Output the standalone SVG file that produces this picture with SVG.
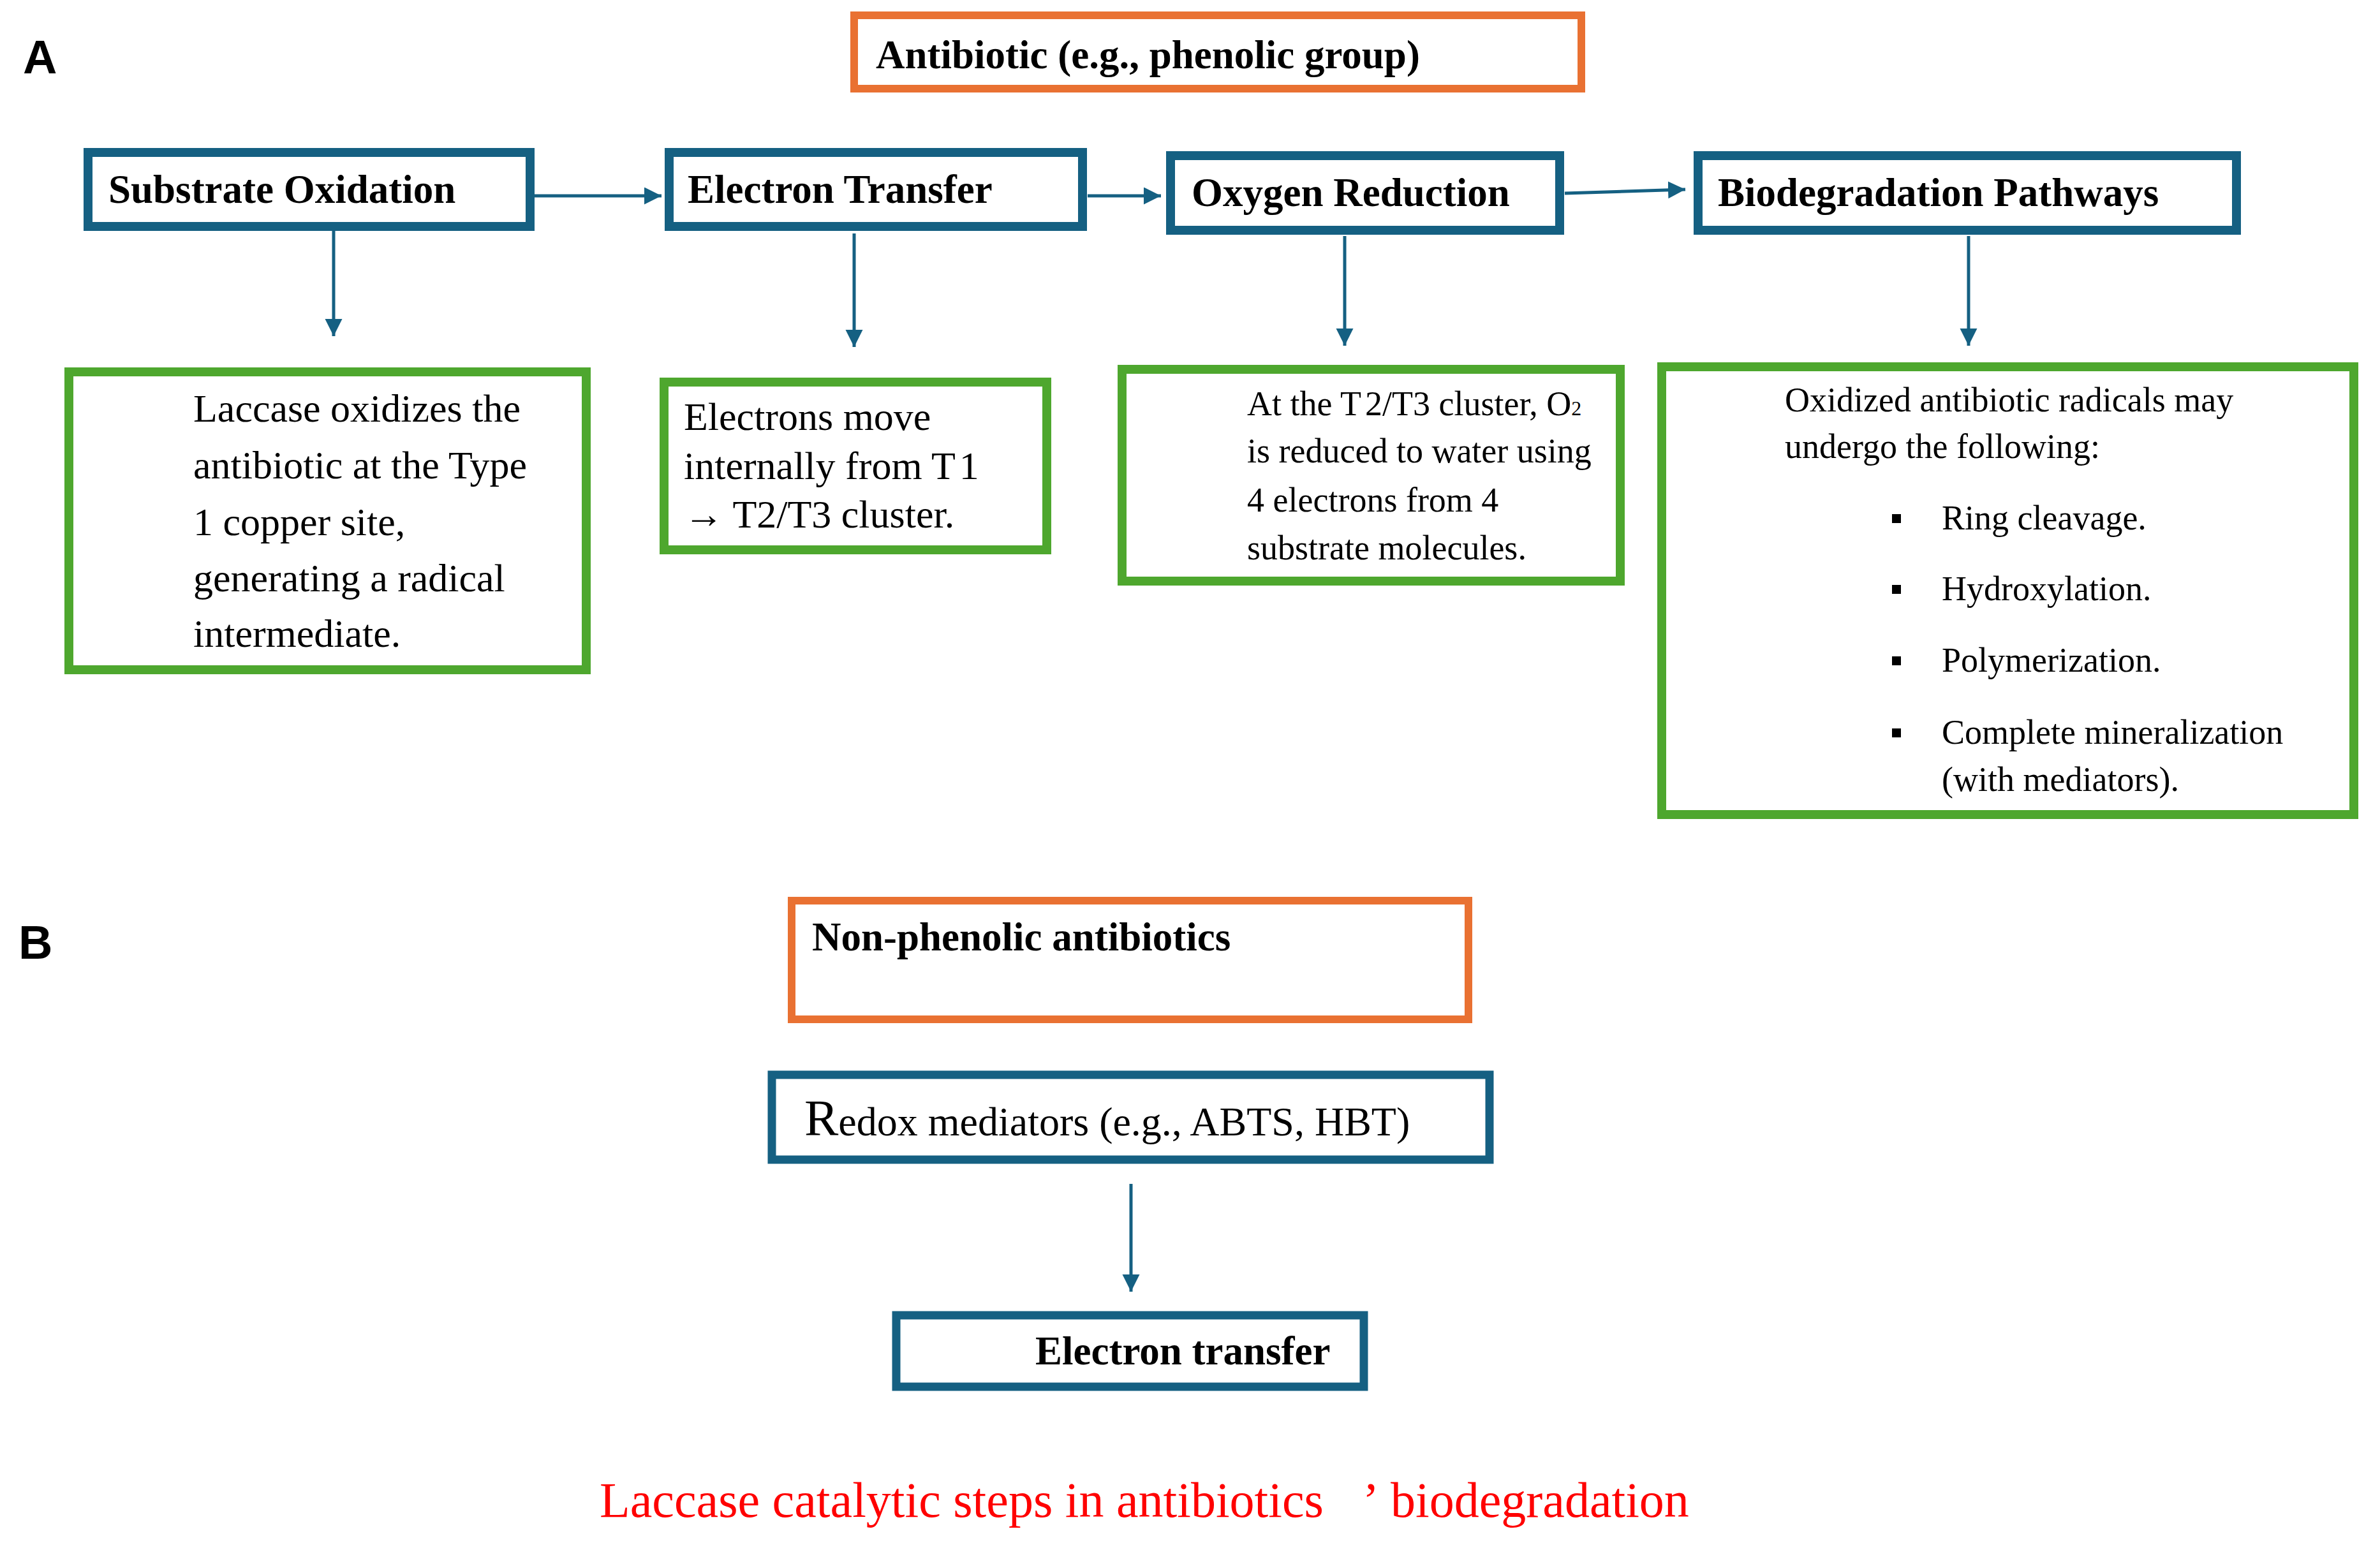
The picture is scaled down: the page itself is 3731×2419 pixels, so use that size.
<svg xmlns="http://www.w3.org/2000/svg" width="3731" height="2419" viewBox="0 0 3731 2419">
<defs>
<style>
.bx{fill:#fff;stroke:#156082;stroke-width:14}
.gr{fill:#fff;stroke:#4EA72E;stroke-width:14}
.or{fill:#fff;stroke:#E97132;stroke-width:12}
.hd{font-family:"Liberation Serif","Times New Roman",serif;font-weight:bold;font-size:63px;fill:#000}
.tx{font-family:"Liberation Serif","Times New Roman",serif;font-size:62px;fill:#000}
.ts{font-family:"Liberation Serif","Times New Roman",serif;font-size:54px;fill:#000}
.lb{font-family:"Liberation Sans",Arial,sans-serif;font-weight:bold;font-size:74px;fill:#000}
.cn{stroke:#156082;stroke-width:5;fill:none;marker-end:url(#ah)}
.cap{font-family:"Liberation Serif","Times New Roman",serif;font-size:78px;fill:#FF0000}
</style>
<marker id="ah" markerUnits="userSpaceOnUse" markerWidth="28" markerHeight="28" refX="27" refY="13.5" orient="auto">
<path d="M0,0 L27,13.5 L0,27 Z" fill="#156082"/>
</marker>
</defs>
<rect width="3731" height="2419" fill="#fff"/>

<text class="lb" x="36" y="115">A</text>
<text class="lb" x="29" y="1503">B</text>

<g id="connectors">
<line class="cn" x1="838" y1="307" x2="1037" y2="307"/>
<line class="cn" x1="1705" y1="307" x2="1820" y2="307"/>
<line class="cn" x1="2453" y1="303" x2="2642" y2="297"/>
<line class="cn" x1="523" y1="362" x2="523" y2="527"/>
<line class="cn" x1="1339" y1="366" x2="1339" y2="544"/>
<line class="cn" x1="2108" y1="370" x2="2108" y2="542"/>
<line class="cn" x1="3086" y1="370" x2="3086" y2="542"/>
<line class="cn" x1="1773" y1="1856" x2="1773" y2="2025"/>
</g>

<g id="antibiotic">
<rect class="or" x="1339" y="24" width="1140" height="115"/>
<text class="hd" x="1373" y="107">Antibiotic (e.g., phenolic group)</text>
</g>

<g id="substrate-oxidation">
<rect class="bx" x="138" y="239" width="693" height="116"/>
<text class="hd" x="170" y="318">Substrate Oxidation</text>
</g>

<g id="electron-transfer">
<rect class="bx" x="1049" y="239" width="648" height="116"/>
<text class="hd" x="1078" y="318">Electron Transfer</text>
</g>

<g id="oxygen-reduction">
<rect class="bx" x="1835" y="244" width="610" height="117"/>
<text class="hd" x="1868" y="323">Oxygen Reduction</text>
</g>

<g id="biodegradation-pathways">
<rect class="bx" x="2662" y="244" width="844" height="117"/>
<text class="hd" x="2693" y="323">Biodegradation Pathways</text>
</g>

<g id="desc-oxidation">
<rect class="gr" x="108" y="583" width="811" height="467"/>
<text class="tx" x="303" y="661">Laccase oxidizes the</text>
<text class="tx" x="303" y="750">antibiotic at the Type</text>
<text class="tx" x="303" y="839">1 copper site,</text>
<text class="tx" x="303" y="927">generating a radical</text>
<text class="tx" x="303" y="1014">intermediate.</text>
</g>

<g id="desc-transfer">
<rect class="gr" x="1041" y="599" width="600" height="263"/>
<text class="tx" x="1072" y="674">Electrons move</text>
<text class="tx" x="1072" y="751">internally from T<tspan dx="6">1</tspan></text>
<text class="tx" x="1072" y="827">→ T2/T3 cluster.</text>
</g>

<g id="desc-reduction">
<rect class="gr" x="1759" y="579" width="781" height="332"/>
<text class="ts" x="1955" y="651">At the T<tspan dx="6">2/T3 cluster, O</tspan><tspan font-size="32">2</tspan></text>
<text class="ts" x="1955" y="725">is reduced to water using</text>
<text class="ts" x="1955" y="802">4 electrons from 4</text>
<text class="ts" x="1955" y="877">substrate molecules.</text>
</g>

<g id="desc-pathways">
<rect class="gr" x="2605" y="575" width="1085" height="702"/>
<text class="ts" x="2798" y="645">Oxidized antibiotic radicals may</text>
<text class="ts" x="2798" y="718">undergo the following:</text>
<rect x="2966" y="806" width="14" height="14" fill="#000"/>
<text class="ts" x="3044" y="830">Ring cleavage.</text>
<rect x="2966" y="917" width="14" height="14" fill="#000"/>
<text class="ts" x="3044" y="941">Hydroxylation.</text>
<rect x="2966" y="1029" width="14" height="14" fill="#000"/>
<text class="ts" x="3044" y="1053">Polymerization.</text>
<rect x="2966" y="1142" width="14" height="14" fill="#000"/>
<text class="ts" x="3044" y="1166">Complete mineralization</text>
<text class="ts" x="3044" y="1240">(with mediators).</text>
</g>

<g id="non-phenolic">
<rect class="or" x="1241" y="1412" width="1061" height="186"/>
<text class="hd" x="1273" y="1490">Non-phenolic antibiotics</text>
</g>

<g id="redox-mediators">
<rect class="bx" x="1210" y="1685" width="1125" height="133" style="stroke-width:13"/>
<text class="tx" x="1261" y="1780" style="font-size:64px"><tspan style="font-size:80px">R</tspan>edox mediators (e.g., ABTS, HBT)</text>
</g>

<g id="electron-transfer-b">
<rect class="bx" x="1405" y="2062" width="733" height="112" style="stroke-width:13"/>
<text class="hd" x="1623" y="2139">Electron transfer</text>
</g>

<text class="cap" x="940" y="2378">Laccase catalytic steps in antibiotics<tspan x="2136">’</tspan><tspan x="2180">biodegradation</tspan></text>
</svg>
